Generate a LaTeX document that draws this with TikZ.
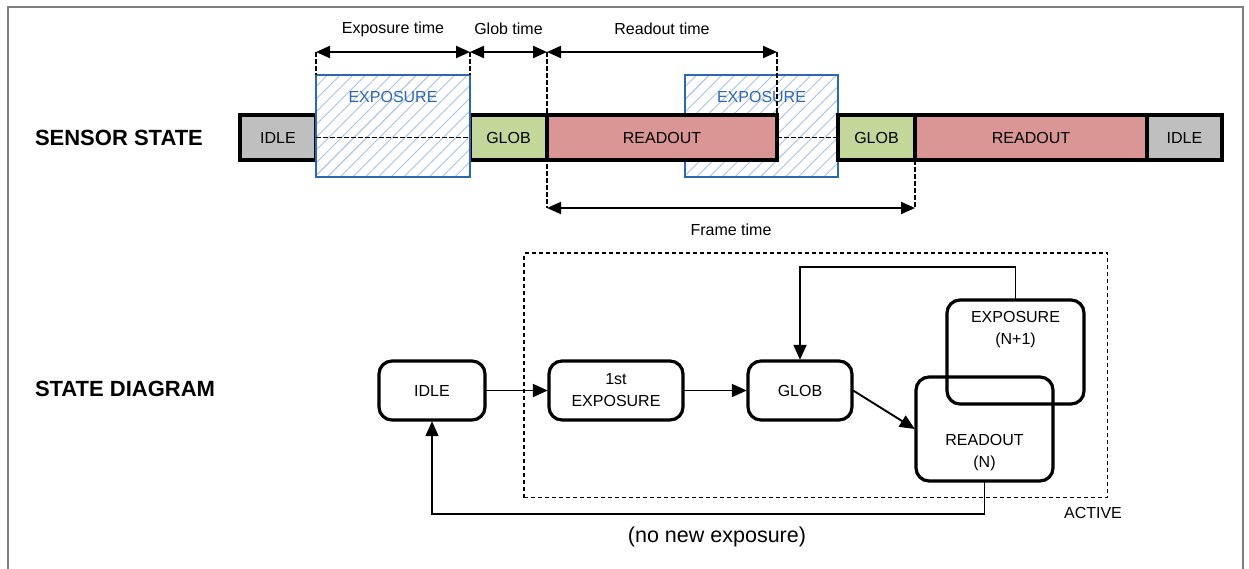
\documentclass[tikz,border=0pt]{standalone}
\usepackage{fontspec}
\setmainfont{Liberation Sans}
\usetikzlibrary{arrows.meta,patterns.meta}
\definecolor{idlegray}{HTML}{BFBFBF}
\definecolor{globgreen}{HTML}{C4D79B}
\definecolor{readred}{HTML}{D99694}
\definecolor{expblue}{HTML}{2E67B1}
\definecolor{hatchblue}{HTML}{A9C1E6}
\definecolor{framegray}{HTML}{7F7F7F}
\pgfdeclarelayer{back}
\pgfsetlayers{back,main}
\begin{document}
\begin{tikzpicture}[x=1pt,y=-1pt,
  font=\fontsize{16}{22}\selectfont,
  every node/.style={inner sep=0pt, outer sep=0pt},
  bar/.style={draw=black, line width=3.2pt, minimum height=45pt},
  expbox/.style={draw=expblue, line width=2.6pt, minimum width=154pt, minimum height=102pt,
     preaction={fill=white},
     pattern={Lines[angle=45,distance=9pt,line width=0.9pt]}, pattern color=hatchblue},
  explabel/.style={text=expblue},
  dimarrow/.style={line width=2.1pt, {Triangle[length=14pt,width=12pt]}-{Triangle[length=14pt,width=12pt]}},
  guide/.style={line width=1.2pt, dash pattern=on 4.5pt off 2.5pt},
  state/.style={draw, line width=3.2pt, rounded corners=13pt, align=center, outer sep=1.2pt},
  conn/.style={line width=1.9pt, -{Triangle[length=15pt,width=13pt]}},
  heading/.style={font=\fontsize{22}{26}\selectfont\bfseries, anchor=west},
]
\useasboundingbox (0,0) rectangle (1249,568);

% outer frame (open at the bottom)
\draw[framegray, line width=2.2pt] (8,572) -- (8,7) -- (1243,7) -- (1243,572);

% row headings
\node[heading] (hSensor) at (35,137.5) {SENSOR STATE};
\node[heading] (hState) at (35,389) {STATE DIAGRAM};

% ---------------- sensor state timeline ----------------
\coordinate (dA) at (316,52);
\coordinate (dB) at (470,52);
\coordinate (dC) at (547,52);
\coordinate (dD) at (777,52);
\coordinate (fA) at (547,208);
\coordinate (fB) at (915,208);

\node[bar, fill=idlegray,  minimum width=76pt]  (idleA) at (278,137.5)   {IDLE};
\node[bar, fill=globgreen, minimum width=77pt]  (globA) at (508.5,137.5) {GLOB};
\node[expbox] (expA) at (393,126) {};
\node[explabel] (expAt) at (393,97) {EXPOSURE};
\draw[guide] (idleA.east) -- (globA.west);
\draw[guide] (dA) -- (expA.north west);
\draw[guide] (dB) -- (expA.north east);

\node[bar, fill=readred,   minimum width=230pt] (rdA)   at (662,137.5)   {READOUT};
\node[bar, fill=globgreen, minimum width=77pt]  (globB) at (876.5,137.5) {GLOB};
\node[bar, fill=readred,   minimum width=232pt] (rdB)   at (1031,137.5)  {READOUT};
\node[bar, fill=idlegray,  minimum width=75pt]  (idleB) at (1184.5,137.5) {IDLE};

\begin{pgfonlayer}{back}
  \node[expbox, minimum width=153pt] (expB) at (761.5,126) {};
  \node[explabel] (expBt) at (761.5,97) {EXPOSURE};
  \draw[guide] (rdA.east) -- (globB.west);
  \draw[guide] (dC) -- (fA);
  \draw[guide] (dD) -- (rdA.north east);
  \draw[guide] (globB.south east) -- (fB);
\end{pgfonlayer}

% time spans
\draw[dimarrow] (dA) -- (dB);
\draw[dimarrow] (dB) -- (dC);
\draw[dimarrow] (dC) -- (dD);
\draw[dimarrow] (fA) -- (fB);
\node (lExp)   at (393,29)   {Exposure time};
\node (lGlob)  at (508.5,29) {Glob time};
\node (lRead)  at (662,29)   {Readout time};
\node (lFrame) at (731,230)  {Frame time};

% ---------------- state diagram ----------------
\node[draw, line width=1.3pt, dash pattern=on 4pt off 3pt,
      minimum width=583.5pt, minimum height=244.5pt] (active) at (815.75,375.25) {};
\node (lActive) at (1093,513) {ACTIVE};

\node[state, minimum width=106pt, minimum height=59pt]  (sIdle) at (432,390.5) {IDLE};
\node[state, minimum width=134pt, minimum height=59pt]  (sExp)  at (616,390.5) {1st\\EXPOSURE};
\node[state, minimum width=104pt, minimum height=59pt]  (sGlob) at (800,390.5) {GLOB};
\node[state, minimum width=137pt, minimum height=104pt] (sExpN) at (1015.5,352) {};
\node[state, minimum width=137pt, minimum height=104pt] (sRdN)  at (984.5,429) {};
\node[align=center] (tExpN) at (1015.5,330) {EXPOSURE\\(N+1)};
\node[align=center] (tRdN)  at (984.5,453) {READOUT\\(N)};

\draw[conn] (sIdle) -- (sExp);
\draw[conn] (sExp) -- (sGlob);
\draw[conn] (sGlob.east) -- (sRdN.west);
\draw[conn] (sExpN.north) -- ++(0,-32) -| (sGlob.north);
\draw[conn] (sRdN.south) -- ++(0,32) -| (sIdle.south);

\node[font=\fontsize{21.5}{26}\selectfont] (lNoNew) at (717,537) {(no new exposure)};
\end{tikzpicture}
\end{document}
